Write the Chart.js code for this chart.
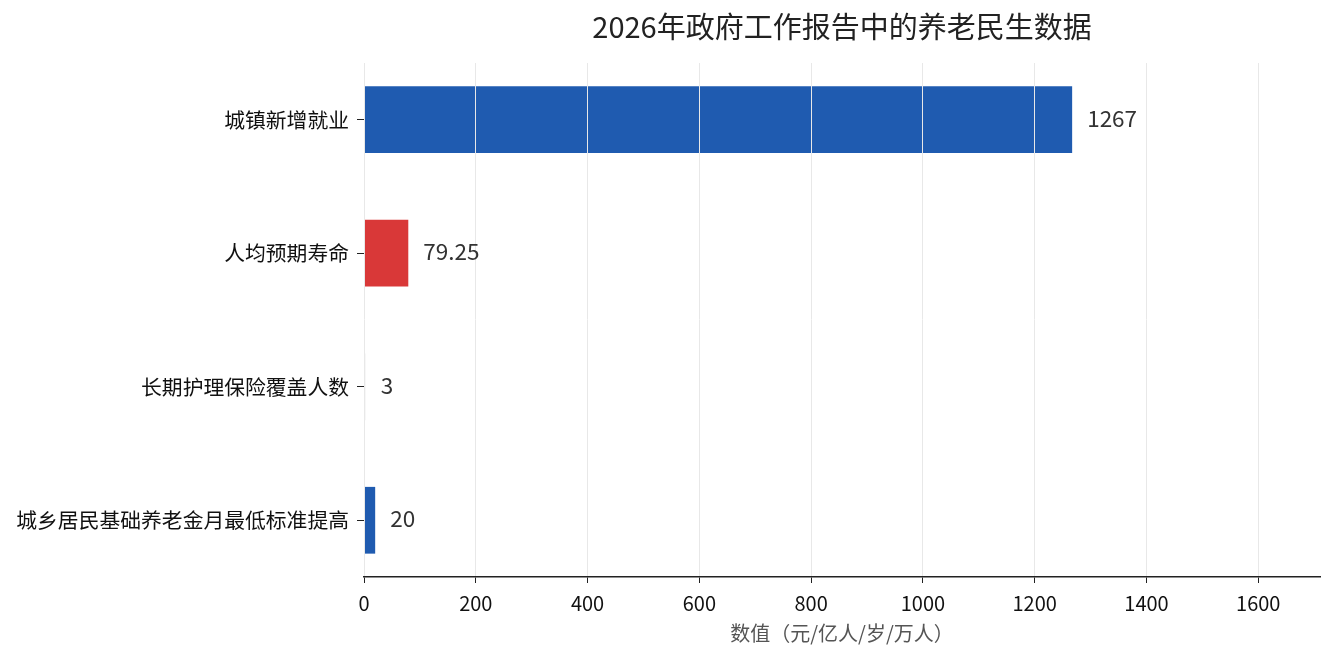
<!DOCTYPE html>
<html>
<head>
<meta charset="utf-8">
<script src="https://cdn.jsdelivr.net/npm/chart.js@4"></script>
<style>
  body { margin: 0; background: #fff; }
  #wrap { width: 1335px; height: 660px; }
</style>
</head>
<body>
<div id="wrap"><canvas id="chart" width="1335" height="660"></canvas></div>
<script>
// data
const categories = ["城镇新增就业", "人均预期寿命", "长期护理保险覆盖人数", "城乡居民基础养老金月最低标准提高"];
const values = [1267, 79.25, 3, 20];
const valueLabels = ["1267", "79.25", "3", "20"];
const barColors = ["#1f5bb0", "#d93838", "#f4f4f4", "#1f5bb0"];
const xTicks = [0, 200, 400, 600, 800, 1000, 1200, 1400, 1600];

const FONT = "'Noto Sans CJK SC', 'Noto Sans', sans-serif";

// draw the number at the end of each bar (after the grid, so it sits on top)
const valueLabelPlugin = {
  id: "valueLabels",
  afterDraw(chart) {
    const ctx = chart.ctx;
    const meta = chart.getDatasetMeta(0);
    ctx.save();
    ctx.font = "22.5px " + FONT;
    ctx.fillStyle = "#333333";
    ctx.textAlign = "left";
    ctx.textBaseline = "middle";
    meta.data.forEach((bar, i) => {
      ctx.fillText(valueLabels[i], bar.x + 15, bar.y - 1.5);
    });
    ctx.restore();
  },
};

new Chart(document.getElementById("chart"), {
  type: "bar",
  data: {
    datasets: [
      {
        data: values.map((v, i) => ({ x: v, y: i })),
        backgroundColor: barColors,
        borderWidth: 0,
        barPercentage: 0.5,
        categoryPercentage: 1,
      },
    ],
  },
  options: {
    indexAxis: "y",
    responsive: false,
    devicePixelRatio: 1,
    animation: false,
    layout: { padding: { left: 0, right: 15, top: 0, bottom: 0 } },
    plugins: {
      legend: { display: false },
      tooltip: { enabled: false },
      title: {
        display: true,
        text: "2026年政府工作报告中的养老民生数据",
        fullSize: false,
        color: "#222222",
        font: { family: FONT, size: 29, weight: "normal" },
        padding: { top: 10, bottom: 18.2 },
      },
    },
    scales: {
      x: {
        type: "linear",
        min: 0,
        max: 1710.45,
        afterBuildTicks: (axis) => {
          axis.ticks = xTicks.map((v) => ({ value: v }));
        },
        afterFit: (scale) => {
          scale.height = 83;
        },
        grid: {
          color: "#e8e8e8",
          lineWidth: 1,
          z: 1,
          tickLength: 6,
          tickColor: "#222222",
        },
        border: { display: true, color: "#222222", width: 1.5, z: 1 },
        ticks: {
          color: "#111111",
          font: { family: FONT, size: 20 },
          padding: 8,
          callback: (v) => String(v),
        },
        title: {
          display: true,
          text: "数值（元/亿人/岁/万人）",
          color: "#555555",
          font: { family: FONT, size: 20 },
          padding: { top: 0, bottom: 15 },
        },
      },
      y: {
        type: "linear",
        reverse: true,
        offset: false,
        min: -0.425,
        max: 3.425,
        afterBuildTicks: (axis) => {
          axis.ticks = categories.map((c, i) => ({ value: i }));
        },
        afterFit: (scale) => {
          scale.width = 364;
        },
        grid: {
          offset: false,
          drawOnChartArea: false,
          tickLength: 7,
          tickColor: "#222222",
        },
        border: { display: false },
        ticks: {
          color: "#111111",
          font: { family: FONT, size: 20.8 },
          padding: 8,
          callback: (v) => categories[v],
        },
      },
    },
  },
  plugins: [valueLabelPlugin],
});
</script>
</body>
</html>
